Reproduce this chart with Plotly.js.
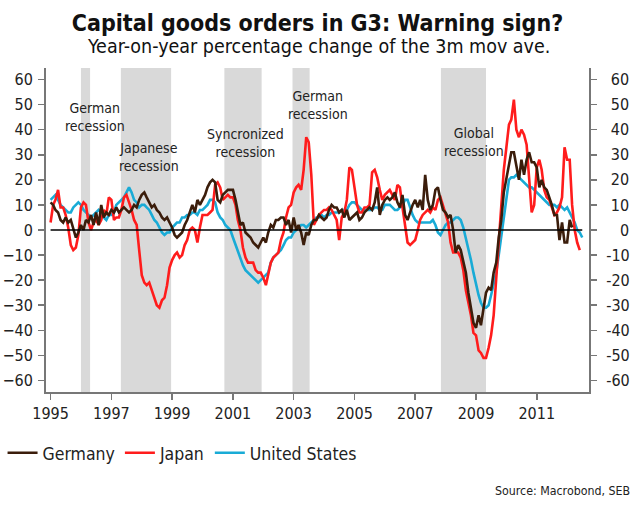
<!DOCTYPE html>
<html>
<head>
<meta charset="utf-8">
<script src="https://cdn.plot.ly/plotly-3.0.1.min.js"></script>
<style>
  html, body { margin: 0; padding: 0; background: #fff; }
  #chart { width: 640px; height: 510px; }
</style>
</head>
<body>
<div id="chart"></div>
<script>
// ---------------- DATA (monthly, starting Jan 1995) ----------------
const firstYear = 1995;

const germany = [
  11, 10, 8, 7, 4, 3, 5, 3, 4, 0, -3, -1,          // 1995
  2, 0, 4, 3, 6, 2, 7, 2, 10, 5, 7, 6,             // 1996
  8, 7, 9, 7, 8, 9, 8, 7, 8, 10, 9, 12,            // 1997
  14, 15, 13, 11, 9, 10, 8, 7, 5, 4, 5, 3,         // 1998
  1, -2, -3, -2, -1, 2, 4, 7, 10, 7, 12, 10,       // 1999
  12, 14, 17, 19, 20, 19, 12, 11, 14, 15, 16, 16,  // 2000
  16, 12, 7, 2, 3, -1, -2, -3, -5, -6, -7, -5,     // 2001
  -3, -5, -1, 2, 1, 4, 4, 5, 5, 2, 4, -1,          // 2002
  5, 0, 2, -1, -6, -1, -2, 2, 4, 4, 6, 5,          // 2003
  4, 5, 8, 10, 9, 9, 7, 8, 5, 8, 4, 5,             // 2004
  6, 7, 4, 5, 7, 8, 9, 8, 11, 17, 6, 10,           // 2005
  12, 13, 12, 13, 15, 11, 9, 14, 6, 4, 7, 10,      // 2006
  12, 9, 12, 8, 22, 12, 8, 10, 16, 17, 12, 8,      // 2007
  7, 5, 6, 0, -9, -6, -8, -13, -17, -25, -31, -37, // 2008
  -39, -34, -38, -31, -25, -23, -24, -17, -13, -3, 4, 15, // 2009
  21, 27, 31, 31, 26, 20, 28, 22, 28, 31, 27, 27,  // 2010
  25, 17, 20, 17, 16, 13, 10, 6, 6, -4, 3, -5,     // 2011
  -5, 4, 1                                          // 2012
];

const japan = [
  3, 10, 12, 16, 9, 9, 6, 1, -6, -8, -7, -2,       // 1995
  9, 11, 10, 3, 0, 3, 4, 2, 4, 8, 6, 13,           // 1996
  12, 4, 5, 5, 8, 13, 14, 11, 8, 4, 2, -8,         // 1997
  -18, -21, -22, -21, -24, -27, -30, -31, -28, -27, -22, -15, // 1998
  -12, -10, -9, -11, -10, -6, -4, 0, 1, 0, -5, 1,  // 1999
  6, 6, 6, 7, 8, 18, 19, 17, 12, 13, 14, 13,       // 2000
  13, 10, 4, 0, -7, -11, -13, -13, -13, -16, -17, -17, // 2001
  -19, -22, -18, -13, -11, -10, -9, -4, -1, 5, 9, 10,  // 2002
  15, 17, 18, 16, 24, 37, 35, 22, 2, 4, 6, 7,      // 2003
  8, 8, 9, 8, 6, 4, -4, 5, 7, 12, 25, 24,          // 2004
  17, 10, 7, 7, 9, 9, 10, 23, 24, 21, 16, 12,      // 2005
  14, 15, 16, 14, 12, 18, 17, 9, 2, -5, -6, -5,    // 2006
  -4, 0, 4, 6, 7, 8, 7, 9, 8, 12, 13, 10,          // 2007
  6, 3, -5, -9, -9, -9, -11, -16, -24, -29, -34, -41,  // 2008
  -42, -48, -49, -51, -51, -47, -42, -34, -20, -4, 9, 24, // 2009
  33, 42, 44, 52, 40, 37, 40, 38, 34, 20, 7, 10,   // 2010
  25, 28, 24, 16, 13, 12, 9, 6, 7, 9, 13, 33,      // 2011
  28, 28, 10, 0, -5, -8                             // 2012
];

const unitedStates = [
  12, 13, 14, 12, 10, 9, 8, 7, 7, 9, 10, 11,       // 1995
  10, 8, 7, 6, 5, 6, 7, 8, 7, 5, 4, 6,             // 1996
  6, 7, 10, 11, 12, 13, 15, 17, 15, 12, 11, 9,     // 1997
  10, 10, 9, 8, 6, 4, 3, 1, -1, -2, -1, -1,        // 1998
  1, 2, 3, 3, 5, 5, 6, 6, 7, 7, 6, 8,              // 1999
  8, 9, 10, 12, 12, 11, 7, 5, 4, 2, 1, 0,          // 2000
  -3, -6, -9, -12, -14, -16, -17, -18, -19, -20, -21, -20, // 2001
  -19, -18, -17, -13, -11, -10, -9, -8, -6, -4, -3, -3,   // 2002
  -1, 0, 1, 2, 2, 1, 2, 3, 4, 5, 5, 6,             // 2003
  5, 6, 6, 7, 7, 7, 7, 8, 8, 8, 10, 11,            // 2004
  11, 10, 9, 8, 8, 8, 8, 8, 9, 9, 8, 8,            // 2005
  10, 10, 10, 9, 8, 8, 9, 10, 12, 12, 9, 6,        // 2006
  4, 3, 3, 3, 3, 3, 3, 4, 2, -1, -2, 0,            // 2007
  2, 3, 3, 4, 5, 5, 4, 1, -3, -7, -12, -17,        // 2008
  -22, -26, -29, -31, -31, -30, -26, -22, -17, -10, -2, 6, // 2009
  14, 20, 21, 21, 22, 21, 20, 19, 18, 17, 17, 16,  // 2010
  15, 14, 13, 12, 11, 10, 10, 10, 9, 10, 9, 8,     // 2011
  9, 7, 5, 3, 0, -1, -3                             // 2012
];

const seriesNames = ['Germany', 'Japan', 'United States'];

const recessionStart = ['1996-01-01', '1997-04-25', '2000-09-20', '2002-12-18', '2007-11-06'];
const recessionEnd   = ['1996-04-20', '1998-12-20', '2001-12-12', '2003-07-12', '2009-05-01'];
const recessionLabels = ['German<br>recession', 'Japanese<br>recession', 'Syncronized<br>recession',
                         'German<br>recession', 'Global<br>recession'];

const yTickValues = [-60, -50, -40, -30, -20, -10, 0, 10, 20, 30, 40, 50, 60];
const xTickYears = ['1995', '1997', '1999', '2001', '2003', '2005', '2007', '2009', '2011'];

// ---------------- BUILD ----------------
const nMonths = Math.max(germany.length, japan.length, unitedStates.length);
const months = [];
for (let i = 0; i < nMonths; i++) {
  const y = firstYear + Math.floor(i / 12);
  const m = (i % 12) + 1;
  months.push(y + '-' + String(m).padStart(2, '0') + '-01');
}

const FONT = '"DejaVu Sans Condensed", "DejaVu Sans", sans-serif';

const colors = { 'Germany': '#3b1d0b', 'Japan': '#ff1c1c', 'United States': '#19abd6' };
const seriesData = { 'Germany': germany, 'Japan': japan, 'United States': unitedStates };
// Germany on the mirrored right-hand axis so both axes are drawn; it is also the top line
const seriesAxis = { 'Germany': 'y2', 'Japan': 'y', 'United States': 'y' };

const drawOrder = ['United States', 'Japan', 'Germany'];
const traces = drawOrder.map(name => ({
  type: 'scatter',
  mode: 'lines',
  name: name,
  x: months.slice(0, seriesData[name].length),
  y: seriesData[name],
  yaxis: seriesAxis[name],
  line: { color: colors[name], width: 2.6 },
  hoverinfo: 'x+y+name'
}));

const shapes = recessionStart.map((s, k) => ({
  type: 'rect', xref: 'x', yref: 'paper',
  x0: s, x1: recessionEnd[k], y0: 0, y1: 1,
  fillcolor: '#d9d9d9', line: { width: 0 }, layer: 'below'
}));
shapes.push({
  type: 'line', xref: 'x', yref: 'y',
  x0: months[0], x1: months[nMonths - 1], y0: 0, y1: 0,
  line: { color: '#000', width: 1.3 }, layer: 'above'
});

// label positions (paper coords)
const labelPos = [[0.090, 0.849], [0.190, 0.725], [0.368, 0.767], [0.500, 0.886], [0.789, 0.773]];
const annotations = recessionLabels.map((t, k) => ({
  text: t, xref: 'paper', yref: 'paper', x: labelPos[k][0], y: labelPos[k][1],
  xanchor: 'center', yanchor: 'middle', showarrow: false, align: 'center',
  font: { family: FONT, size: 14, color: '#222' }
}));
annotations.push({
  text: 'Year-on-year percentage change of the 3m mov ave.',
  xref: 'paper', yref: 'paper', x: 0.502, y: 1.065, xanchor: 'center', yanchor: 'middle',
  showarrow: false, font: { family: FONT, size: 19.5, color: '#111' }
});
annotations.push({
  text: 'Source: Macrobond, SEB',
  xref: 'paper', yref: 'paper', x: 1.079, y: -0.306, xanchor: 'right', yanchor: 'middle',
  showarrow: false, font: { family: FONT, size: 12.3, color: '#222' }
});

// right-hand labels are right-aligned in the reference: pad with figure/punctuation spaces
const FIG = '\u2007', PUNC = '\u2008';
const rightTickText = yTickValues.map(v => {
  const s = String(v);
  if (v < 0) return s;
  if (v === 0) return PUNC + FIG + s;
  return PUNC + s;
});

const yRange = [-64.6, 64.6];
const axisCommon = {
  range: yRange, tickvals: yTickValues, ticks: 'outside', ticklen: 6, tickwidth: 1.5,
  tickcolor: '#777', showline: true, linecolor: '#777', linewidth: 2,
  showgrid: false, zeroline: false, fixedrange: true, automargin: false,
  tickfont: { family: FONT, size: 16, color: '#222' }
};

const layout = {
  width: 640, height: 510,
  margin: { l: 46, r: 51, t: 68, b: 118, autoexpand: false },
  paper_bgcolor: '#fff', plot_bgcolor: '#fff',
  font: { family: FONT, color: '#222' },
  title: {
    text: 'Capital goods orders in G3: Warning sign?',
    font: { family: FONT, size: 23, weight: 'bold', color: '#111' },
    x: 0.5, xanchor: 'center', xref: 'paper', y: 0.955, yanchor: 'middle', yref: 'container'
  },
  xaxis: {
    type: 'date', range: ['1994-11-07', '2012-09-20'],
    tickvals: xTickYears.map(y => y + '-01-01'), ticktext: xTickYears,
    ticks: 'outside', ticklen: 6, tickwidth: 1.5, tickcolor: '#777',
    showline: true, linecolor: '#777', linewidth: 2, showgrid: false, zeroline: false,
    automargin: false,
    tickfont: { family: FONT, size: 16, color: '#222' }, fixedrange: true
  },
  yaxis: Object.assign({}, axisCommon, { side: 'left', ticklabelstandoff: 2 }),
  yaxis2: Object.assign({}, axisCommon, {
    side: 'right', overlaying: 'y', matches: 'y', ticktext: rightTickText, ticklabelstandoff: 6
  }),
  showlegend: true,
  legend: {
    orientation: 'h', xref: 'container', yref: 'container',
    x: 0.004, xanchor: 'left', y: 0.112, yanchor: 'middle',
    traceorder: 'reversed', font: { family: FONT, size: 17.5, color: '#222' },
    bgcolor: 'rgba(0,0,0,0)'
  },
  shapes: shapes,
  annotations: annotations
};

Plotly.newPlot('chart', traces, layout, { displayModeBar: false, staticPlot: true });
</script>
</body>
</html>
